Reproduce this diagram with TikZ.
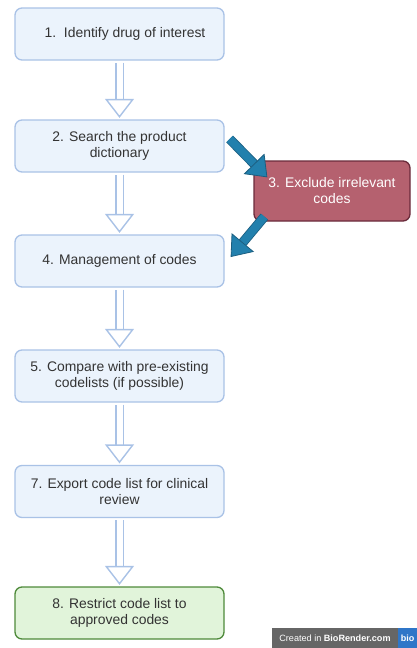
\documentclass[tikz,border=0pt]{standalone}
\usepackage{fontspec}
\setmainfont{Liberation Sans}
\usetikzlibrary{arrows.meta}
\definecolor{stepfill}{HTML}{EBF3FC}
\definecolor{stepline}{HTML}{A9C2E6}
\definecolor{redfill}{HTML}{B5616F}
\definecolor{redline}{HTML}{6A2B3B}
\definecolor{greenfill}{HTML}{E1F4DA}
\definecolor{greenline}{HTML}{4E8A3A}
\definecolor{flowblue}{HTML}{2280AD}
\definecolor{flowline}{HTML}{1B5E80}
\definecolor{badgegray}{HTML}{666666}
\definecolor{badgeblue}{HTML}{2F76C8}
\tikzset{
  stepbox/.style={draw=stepline,fill=stepfill,line width=1.3pt,rounded corners=7pt,minimum width=209pt,minimum height=52pt,align=center,inner sep=0pt,text=black!80,font=\fontsize{13.9}{16}\selectfont},
  hollowarrow/.style={draw=stepline,line width=1.4pt,double=white,double distance=6pt,shorten <=2pt,shorten >=1.5pt,-{Triangle[fill=white,length=19pt,width=29pt,line width=1.4pt]}},
  bluearrow/.style={draw=flowline,line width=.8pt,double=flowblue,double distance=8pt,-{Triangle[fill=flowblue,length=19pt,width=29pt,line width=.8pt]}}
}
\begin{document}
\begin{tikzpicture}[x=1pt,y=-1pt]
  \useasboundingbox (0,0) rectangle (417,648);
  \foreach \name/\y/\txt in {stepa/34/{\hspace{11pt}1.\ \ Identify drug of interest},stepb/146/{2. Search the product\\dictionary},stepd/261/{4. Management of codes},stepe/376/{5. Compare with pre-existing\\codelists (if possible)},stepf/491.5/{7. Export code list for clinical\\review}}{
    \node[stepbox] (\name) at (119.5,\y) {\txt};
  }
  \node[stepbox,draw=greenline,fill=greenfill] (stepg) at (119.5,613) {8. Restrict code list to\\approved codes};
  \node[stepbox,draw=redline,fill=redfill,text=white,minimum width=156pt,minimum height=60pt] (stepc) at (332,191) {3. Exclude irrelevant\\codes};
  \foreach \a/\b in {stepa/stepb,stepb/stepd,stepd/stepe,stepe/stepf,stepf/stepg}{
    \draw[hollowarrow] (\a.south) -- (\b.north);
  }
  \draw[bluearrow] ([shift={(5,-7)}]stepb.east) -- ([shift={(14,17)}]stepc.north west);
  \draw[bluearrow] ([shift={(11,-5)}]stepc.south west) -- ([shift={(6,-4)}]stepd.east);
  \node[fill=badgegray,text=white,minimum width=126pt,minimum height=20pt,inner sep=0pt,font=\fontsize{9.1}{10}\selectfont] (badge) at (335,638) {Created in \textbf{BioRender.com}};
  \node[fill=badgeblue,text=white,minimum width=19pt,minimum height=20pt,inner sep=0pt,font=\fontsize{9}{10}\selectfont\bfseries] (badgebio) at (407.5,638) {bio};
\end{tikzpicture}
\end{document}
